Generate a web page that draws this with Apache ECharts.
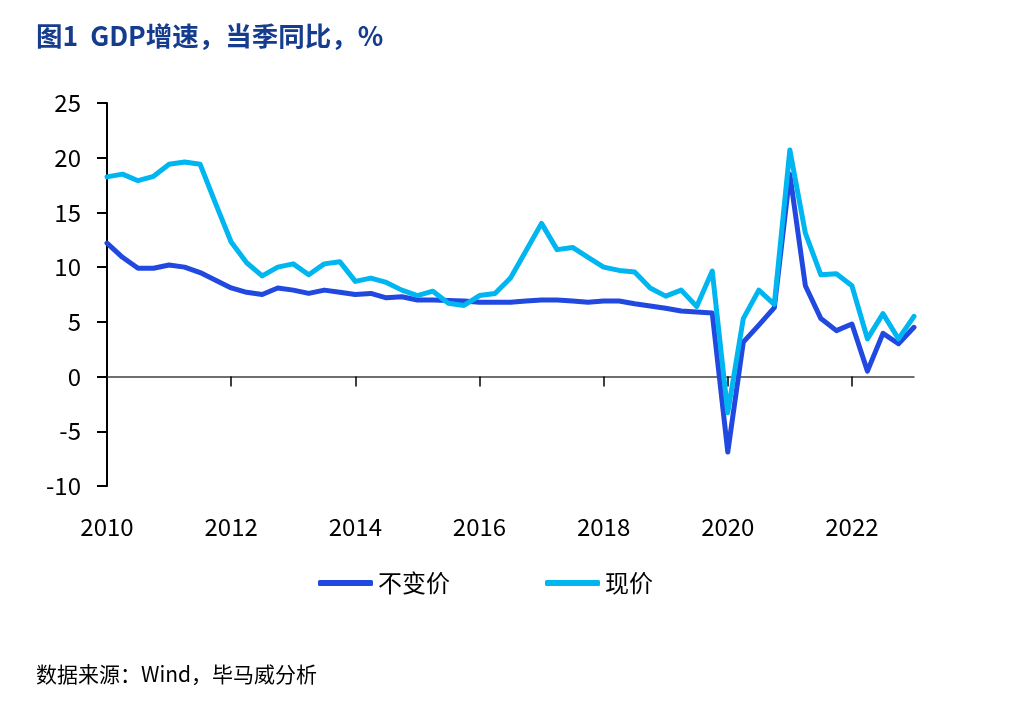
<!DOCTYPE html>
<html>
<head>
<meta charset="utf-8">
<script src="https://cdn.jsdelivr.net/npm/echarts@6/dist/echarts.min.js"></script>
<style>html,body{margin:0;padding:0;background:#fff;}#c{width:1012px;height:722px;}</style>
</head>
<body>
<div id="c"></div>
<script>
const categories = [
  '2010Q1','2010Q2','2010Q3','2010Q4','2011Q1','2011Q2','2011Q3','2011Q4',
  '2012Q1','2012Q2','2012Q3','2012Q4','2013Q1','2013Q2','2013Q3','2013Q4',
  '2014Q1','2014Q2','2014Q3','2014Q4','2015Q1','2015Q2','2015Q3','2015Q4',
  '2016Q1','2016Q2','2016Q3','2016Q4','2017Q1','2017Q2','2017Q3','2017Q4',
  '2018Q1','2018Q2','2018Q3','2018Q4','2019Q1','2019Q2','2019Q3','2019Q4',
  '2020Q1','2020Q2','2020Q3','2020Q4','2021Q1','2021Q2','2021Q3','2021Q4',
  '2022Q1','2022Q2','2022Q3','2022Q4','2023Q1'
];
const realGrowth = [12.2,10.9,9.9,9.9,10.2,10.0,9.5,8.8,8.1,7.7,7.5,8.1,7.9,7.6,7.9,7.7,7.5,7.6,7.2,7.3,7.0,7.0,6.95,6.9,6.8,6.8,6.8,6.9,7.0,7.0,6.9,6.8,6.9,6.9,6.65,6.45,6.25,6.0,5.9,5.8,-6.9,3.15,4.7,6.3,18.5,8.3,5.3,4.2,4.8,0.5,3.95,3.0,4.5];
const nominalGrowth = [18.25,18.5,17.9,18.3,19.4,19.6,19.4,15.8,12.3,10.4,9.2,10.0,10.3,9.3,10.3,10.5,8.7,9.0,8.6,7.9,7.4,7.8,6.7,6.5,7.4,7.6,9.0,11.5,14.0,11.6,11.8,10.9,10.0,9.7,9.55,8.1,7.35,7.9,6.4,9.65,-3.3,5.3,7.9,6.6,20.7,13.1,9.3,9.4,8.3,3.45,5.75,3.45,5.5];
const seriesNames = ['不变价', '现价'];
const titleText = '图1  GDP增速，当季同比，%';
const sourceText = '数据来源：Wind，毕马威分析';

const FONT = '"Noto Sans CJK SC", "Noto Sans", sans-serif';
const chart = echarts.init(document.getElementById('c'), null, {renderer: 'canvas'});
chart.setOption({
  backgroundColor: '#ffffff',
  animation: false,
  textStyle: {fontFamily: FONT},
  title: {
    text: titleText,
    left: 36, top: 23, padding: 0,
    textStyle: {fontFamily: FONT, fontSize: 26.5, fontWeight: 'bold', color: '#163c8e'}
  },
  legend: {
    data: seriesNames,
    left: 313, top: 566,
    icon: 'roundRect',
    itemWidth: 55, itemHeight: 6,
    itemGap: 95,
    textStyle: {fontFamily: FONT, fontSize: 24, color: '#000'}
  },
  graphic: [{
    type: 'text', left: 36, top: 664,
    style: {text: sourceText, font: '21px ' + FONT, fill: '#000'}
  }],
  grid: {left: 107, top: 103, width: 807, height: 383},
  xAxis: {
    type: 'category',
    data: categories,
    boundaryGap: false,
    axisLine: {onZero: true, lineStyle: {color: '#404040', width: 1.5}},
    axisTick: {
      show: true, length: 10, inside: false,
      interval: function (i) { return i % 8 === 0; },
      lineStyle: {color: '#000', width: 1.5}
    },
    axisLabel: {
      show: true, margin: 29,
      interval: function (i) { return i % 8 === 0; },
      formatter: function (v) { return v.slice(0, 4); },
      fontFamily: FONT, fontSize: 24, color: '#000'
    },
    splitLine: {show: false}
  },
  yAxis: {
    type: 'value',
    min: -10, max: 25, interval: 5,
    axisLine: {show: true, onZero: false, lineStyle: {color: '#000', width: 2}},
    axisTick: {show: true, length: 10, inside: false, lineStyle: {color: '#000', width: 2}},
    axisLabel: {margin: 26, fontFamily: FONT, fontSize: 24, color: '#000'},
    splitLine: {show: false}
  },
  series: [
    {
      name: seriesNames[0], type: 'line', data: realGrowth,
      symbol: 'none', smooth: false,
      lineStyle: {color: '#2149df', width: 5, join: 'round', cap: 'round'},
      itemStyle: {color: '#2149df'}
    },
    {
      name: seriesNames[1], type: 'line', data: nominalGrowth,
      symbol: 'none', smooth: false,
      lineStyle: {color: '#00b6f1', width: 5, join: 'round', cap: 'round'},
      itemStyle: {color: '#00b6f1'}
    }
  ]
});
</script>
</body>
</html>
